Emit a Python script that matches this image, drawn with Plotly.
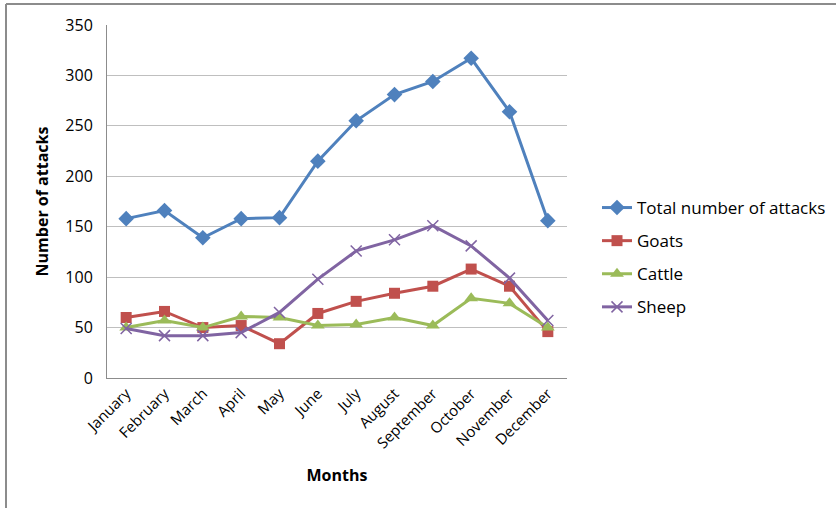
import plotly.graph_objects as go

months = ["January", "February", "March", "April", "May", "June", "July",
          "August", "September", "October", "November", "December"]
total = [158, 166, 139, 158, 159, 215, 255, 281, 294, 317, 264, 156]
goats = [60, 66, 50, 52, 34, 64, 76, 84, 91, 108, 91, 46]
cattle = [50, 57, 50, 61, 60, 52, 53, 60, 52, 79, 74, 50]
sheep = [49, 42, 42, 45, 65, 98, 126, 137, 151, 131, 99, 57]

series = [
    ("Total number of attacks", total, "#4F81BD", "diamond", 12),
    ("Goats", goats, "#C0504D", "square", 11),
    ("Cattle", cattle, "#9BBB59", "triangle-up", 12),
    ("Sheep", sheep, "#8064A2", "x-thin", 11),
]

FONT = "Open Sans"
fig = go.Figure()
for i, (name, vals, col, sym, sz) in enumerate(series):
    marker = dict(symbol=sym, size=sz, color=col)
    if sym == "x-thin":
        marker["line"] = dict(color=col, width=1.5)
    fig.add_trace(go.Scatter(
        x=months, y=vals, name=name, mode="lines+markers",
        line=dict(color=col, width=3), marker=marker, legendgroup=f"g{i}",
    ))

L, T, R, B = 107, 25, 567, 378
W, H = 836, 508
pw, ph = R - L, B - T

def px(x):
    return (x - L) / pw

def py(y):
    return (B - y) / ph

fig.update_layout(
    width=W, height=H,
    margin=dict(l=L, r=W - R, t=T, b=H - B, autoexpand=False),
    paper_bgcolor="white", plot_bgcolor="white",
    font=dict(family=FONT, size=15, color="#000000"),
    showlegend=True,
    legend=dict(x=px(597), y=py(190), xanchor="left", yanchor="top",
                font=dict(size=17, family=FONT), tracegroupgap=8,
                bgcolor="rgba(0,0,0,0)"),
    xaxis=dict(
        type="category", tickangle=-45, showgrid=False,
        showline=True, linecolor="#8c8c8c", linewidth=1,
        ticks="", tickfont=dict(size=15, family=FONT),
        title=dict(text="<b>Months</b>", font=dict(size=16, family=FONT), standoff=18),
        range=[-0.5, 11.5],
    ),
    yaxis=dict(
        range=[0, 350], dtick=50, showgrid=True, gridcolor="#bfbfbf", gridwidth=1,
        showline=True, linecolor="#8c8c8c", linewidth=1, ticks="",
        tickfont=dict(size=16, family=FONT), ticklabelstandoff=10,
        title=dict(text="<b>Number of attacks</b>", font=dict(size=16, family=FONT), standoff=12),
        zeroline=False,
    ),
    shapes=[
        dict(type="line", xref="paper", yref="paper", x0=px(6), x1=px(6),
             y0=py(4), y1=py(510), line=dict(color="#8c8c8c", width=2)),
        dict(type="line", xref="paper", yref="paper", x0=px(6), x1=px(840),
             y0=py(4), y1=py(4), line=dict(color="#8c8c8c", width=2)),
    ],
)

fig.write_html("out.html")
